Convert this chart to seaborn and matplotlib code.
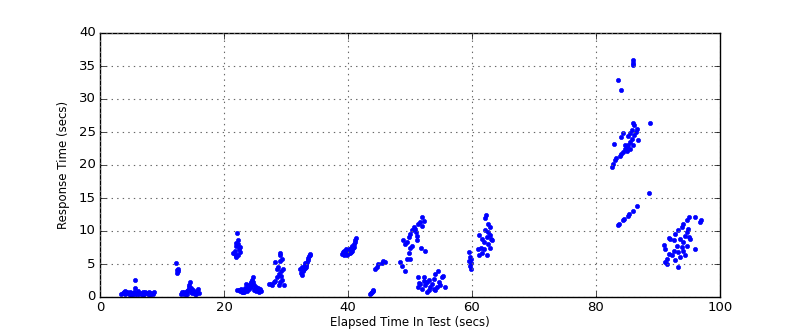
import matplotlib
matplotlib.use("Agg")
import matplotlib.pyplot as plt
import seaborn as sns
import pandas as pd

# Elapsed time (x) and response time (y), grouped by burst
x_a = [3.4,3.7,3.9,4.1,4.3,4.5,4.7,4.9,5.1,5.3,5.5,5.6,5.6,5.7,5.9,6.1,6.3,6.5,6.7,6.9,7.1,7.3,7.5,7.7,7.9,8.1,8.3,8.5,8.7,5.0,6.0,7.0,8.0,4.0]
y_a = [0.5,0.6,0.7,0.5,0.8,0.6,0.5,0.7,0.6,0.4,0.8,2.6,1.4,0.5,0.6,0.9,0.5,0.6,0.4,0.7,0.5,0.8,0.6,0.5,0.7,0.4,0.6,0.5,0.7,0.3,0.4,0.3,0.3,0.9]

x_b = [12.3,12.4,12.5,12.4,12.6]
y_b = [5.2,4.1,3.9,3.7,4.2]

x_c = [13.0,13.2,13.4,13.6,13.8,14.0,14.2,14.3,14.4,14.5,14.6,14.7,14.8,15.0,15.2,15.4,15.6,15.8,15.9,13.5,14.1,14.9,15.5]
y_c = [0.5,0.7,0.6,0.8,0.5,0.9,1.0,1.5,1.8,2.2,1.3,0.8,0.6,1.0,0.7,0.5,0.9,1.2,0.6,0.4,0.5,1.1,0.4]

x_d = [22.1,21.9,22.3,22.6,22.0,22.4,21.7,21.9,22.2,22.5,21.5,22.0,22.3,21.8]
y_d = [9.7,8.2,8.0,7.6,7.8,7.2,6.5,6.2,6.3,6.8,6.6,6.0,8.6,7.0]

x_e = [22.1,22.4,22.6,22.8,23.0,23.2,23.4,23.5,23.7,23.9,24.0,24.2,24.3,24.4,24.5,24.6,24.8,25.0,25.2,25.4,25.6,25.8,26.0,22.9,23.3,23.8,24.1,24.7,25.1,25.5,23.6,24.9]
y_e = [1.0,1.1,0.9,1.2,0.8,1.0,1.3,1.1,0.9,1.4,1.6,2.0,1.5,2.3,2.6,3.0,1.8,1.2,1.5,1.0,0.8,1.2,0.9,0.7,0.8,1.7,1.2,2.2,0.9,1.4,2.0,1.1]

x_f = [27.5,27.8,28.0,28.3,28.6,28.9,29.2,28.5,28.7,29.0,29.3,29.0,29.1,28.3,29.5,29.3,29.6,28.8,29.0,27.2,29.2]
y_f = [2.0,1.8,2.2,2.5,3.0,3.5,4.0,4.3,4.5,5.5,5.8,6.3,6.7,5.3,4.2,2.6,1.8,1.8,2.2,1.9,3.2]

x_g = [32.3,32.5,32.6,32.8,32.9,33.0,33.1,33.2,33.3,33.4,33.5,33.6,33.7,33.8,33.9,32.4,32.7,33.0,33.2]
y_g = [4.2,4.5,3.4,4.0,4.3,4.8,4.4,5.0,4.9,5.3,5.6,5.9,6.2,6.5,6.4,3.6,4.1,5.2,4.6]

x_h = [39.0,39.2,39.4,39.5,39.7,39.8,40.0,40.1,40.2,40.4,40.5,40.6,40.7,40.8,41.0,41.1,41.2,41.3,39.3,39.9,40.3,40.9,39.6,40.5]
y_h = [6.5,6.8,6.3,7.0,6.6,7.1,6.9,7.3,6.7,7.2,7.5,7.0,7.8,7.4,8.0,8.3,8.6,8.9,6.9,6.4,6.6,7.6,7.2,6.8]

x_i = [43.5,43.7,43.8,44.0,44.1,44.4,44.6,44.9,45.5,45.7,45.9]
y_i = [0.5,0.6,0.7,0.9,1.0,4.2,4.6,5.0,5.2,5.5,5.3]

x_j = [52.0,52.2,51.6,51.3,52.0,50.8,50.3,50.0,49.8,48.9,49.5,51.1,50.3,50.0,51.8,52.4,49.8,49.5,50.0,48.4,48.7,49.2,50.6,49.2,50.9,51.2]
y_j = [12.1,11.5,11.4,11.0,10.8,10.3,10.1,9.6,9.1,8.7,8.4,8.7,7.8,7.4,7.5,6.9,6.6,5.8,5.7,5.3,4.7,4.0,10.6,8.0,9.9,9.2]

x_k = [51.3,51.6,51.3,51.9,52.4,52.2,53.0,52.7,53.5,53.8,54.1,54.5,54.3,54.8,55.1,55.4,55.7,53.3,53.8,54.6,51.4,52.3,53.0,54.1,52.7]
y_k = [3.0,2.0,1.5,1.2,1.8,2.5,1.0,2.2,2.0,2.8,3.5,4.0,1.5,1.8,3.0,3.2,1.5,1.5,1.2,2.3,2.1,3.0,2.6,1.1,0.8]

x_l = [59.5,59.6,59.5,59.8,59.6,59.9,59.8]
y_l = [6.8,6.0,5.5,5.2,4.7,4.3,5.7]

x_m = [62.2,62.1,62.6,62.9,62.1,61.1,61.6,62.4,62.9,63.2,61.9,62.5,61.4,62.0,62.9,61.6,61.1,62.4,60.9,62.6,63.0]
y_m = [12.5,12.0,11.1,10.6,10.1,9.4,8.8,9.1,9.4,8.6,8.3,8.0,7.5,7.2,7.5,6.7,6.4,6.4,7.2,9.8,8.8]

x_n = [82.5,82.8,83.0,83.3,83.8,84.1,84.4,84.7,85.0,85.2,85.5,85.8,86.1,86.4,86.6,86.1,85.9,82.9,84.4,84.0,85.5,85.2,85.8,86.0,85.0,84.7,86.7,85.5,88.7,83.5,84.1,85.9,86.0,86.0]
y_n = [19.7,20.2,20.7,21.1,21.4,21.6,22.0,22.5,22.7,23.1,23.5,24.0,24.5,25.0,25.5,26.1,26.4,23.2,24.9,24.3,24.8,24.4,25.3,23.0,22.1,23.0,23.8,22.5,26.3,32.9,31.3,35.9,35.5,35.1]

x_o = [83.6,83.7,84.4,84.5,85.1,85.4,85.9,86.6,88.6]
y_o = [10.95,11.1,11.7,11.8,12.3,12.6,13.1,13.8,15.7]

x_p = [96.0,97.0,96.8,95.0,94.6,94.1,93.8,93.3,92.7,91.9,91.7,92.5,90.9,91.1,91.7,91.4,91.1,91.4,93.3,95.1,96.0,93.5,94.1,93.0,93.8,92.5,93.3,94.4,94.6,94.9,94.1,93.5,92.2,94.6,92.7,95.0,94.4]
y_p = [12.1,11.6,11.3,12.1,11.6,11.1,10.6,10.1,9.6,8.8,8.9,8.6,7.9,7.3,6.5,5.8,5.3,5.0,4.5,8.8,7.3,8.8,8.3,7.8,7.6,7.0,6.8,9.3,9.8,10.3,7.0,6.1,6.3,7.8,5.6,9.1,6.3]

elapsed = x_a + x_b + x_c + x_d + x_e + x_f + x_g + x_h + x_i + x_j + x_k + x_l + x_m + x_n + x_o + x_p
response = y_a + y_b + y_c + y_d + y_e + y_f + y_g + y_h + y_i + y_j + y_k + y_l + y_m + y_n + y_o + y_p

df = pd.DataFrame({"Elapsed": elapsed, "Response": response})

plt.style.use("classic")
plt.rcParams["font.family"] = ["DejaVu Sans"]
fig = plt.figure(figsize=(8, 3.3), dpi=100, facecolor="white")
ax = fig.add_axes([0.125, 0.1, 0.775, 0.8])
sns.scatterplot(data=df, x="Elapsed", y="Response", ax=ax, color="#0000ff",
                edgecolor="#0000ff", s=9, linewidth=0.5, legend=False)
ax.set_xlim(0, 100)
ax.set_ylim(0, 40)
ax.set_xticks(range(0, 101, 20))
ax.set_yticks(range(0, 41, 5))
ax.tick_params(labelsize=9.5, pad=3)
ax.grid(True, linestyle=":", color="0.4", linewidth=0.8)
ax.set_xlabel("Elapsed Time In Test (secs)", fontsize=8.5, labelpad=1)
ax.set_ylabel("Response Time (secs)", fontsize=8.5, labelpad=6)
fig.savefig("out.png", dpi=100, facecolor="white")
